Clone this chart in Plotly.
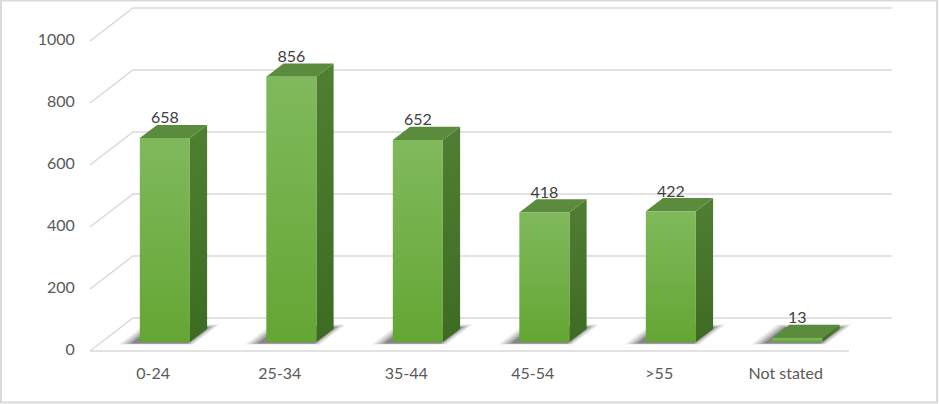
import plotly.graph_objects as go

categories = ["0-24", "25-34", "35-44", "45-54", ">55", "Not stated"]
values = [658, 856, 652, 418, 422, 13]
tick_values = [0, 200, 400, 600, 800, 1000]
tick_labels = ["0", "200", "400", "600", "800", "1000"]

# 3D projection parameters (data units)
DX = 0.34      # horizontal shift for full depth (category units)
DY = 106.5     # vertical shift for full depth (value units)
D0, D1 = 0.27, 0.67   # bar front / back depth fractions
HW = 0.198     # half bar width
W, H = 939, 404
PXX = 126.5    # pixels per category
PXY = 0.31     # pixels per value unit
X0PX, Y0PX = 90, 351

x_range = [-X0PX / PXX, (W - X0PX) / PXX]
y_range = [-(H - Y0PX) / PXY, Y0PX / PXY]

GRID = "#d9d9d9"
TXT = "#595959"
n = len(categories)

fig = go.Figure()

def poly(xs, ys, **kw):
    fig.add_trace(go.Scatter(x=xs + [xs[0]], y=ys + [ys[0]], mode="lines", fill="toself",
                             hoverinfo="skip", showlegend=False, **kw))

# back wall gridlines and left diagonals
for v in tick_values:
    fig.add_trace(go.Scatter(x=[0, DX, n + DX], y=[v, v + DY, v + DY], mode="lines",
                             line=dict(color=GRID, width=1.5), hoverinfo="skip", showlegend=False))
# front floor edge
fig.add_trace(go.Scatter(x=[0, n], y=[0, 0], mode="lines",
                         line=dict(color=GRID, width=1.5), hoverinfo="skip", showlegend=False))

# shadows
for i, v in enumerate(values):
    c = i + 0.5
    for k, op in [(1.0, 0.10), (0.75, 0.14), (0.5, 0.2), (0.25, 0.28)]:
        da, db = 0.24 - 0.04 * k, 0.70 + 0.10 * k
        xl, xr = c - HW - 0.03 - 0.11 * k, c + HW - 0.02 + 0.07 * k
        poly([xl + da * DX, xr + da * DX, xr + db * DX, xl + db * DX],
             [da * DY, da * DY, db * DY, db * DY],
             line=dict(width=0), fillcolor=f"rgba(35,35,35,{op})")

# bars
for i, v in enumerate(values):
    c = i + 0.5
    xl = c - HW + D0 * DX
    xr = c + HW + D0 * DX
    yb = D0 * DY
    yt = v + D0 * DY
    ddx, ddy = (D1 - D0) * DX, (D1 - D0) * DY
    # side face
    poly([xr, xr + ddx, xr + ddx, xr], [yb, yb + ddy, yt + ddy, yt],
         line=dict(width=0), fillcolor="#466f2b",
         fillgradient=dict(type="vertical", colorscale=[[0, "#3d6b22"], [1, "#507f33"]]))
    # top face
    poly([xl, xr, xr + ddx, xl + ddx], [yt, yt, yt + ddy, yt + ddy],
         line=dict(width=0), fillcolor="#5b8b3c")
    # front face
    poly([xl, xr, xr, xl], [yb, yb, yt, yt],
         line=dict(width=0), fillcolor="#70b046",
         fillgradient=dict(type="vertical", colorscale=[[0, "#64a634"], [1, "#80b95c"]]))

# data labels
fig.add_trace(go.Scatter(
    x=[i + 0.5 + D0 * DX for i in range(n)],
    y=[v + D1 * DY - 8 for v in values],
    mode="text", text=[str(v) for v in values], textposition="top center",
    textfont=dict(family="Lato", size=16, color="#404040"),
    hoverinfo="skip", showlegend=False))

# y tick labels
fig.add_trace(go.Scatter(
    x=[-0.12] * len(tick_values), y=tick_values, mode="text", text=tick_labels,
    textposition="middle left", textfont=dict(family="Lato", size=16, color=TXT),
    hoverinfo="skip", showlegend=False))

# category labels
fig.add_trace(go.Scatter(
    x=[i + 0.5 for i in range(n)], y=[-77] * n, mode="text", text=categories,
    textposition="middle center", textfont=dict(family="Lato", size=16, color=TXT),
    hoverinfo="skip", showlegend=False))

fig.update_layout(
    width=W, height=H, margin=dict(l=0, r=0, t=0, b=0),
    paper_bgcolor="white", plot_bgcolor="white",
    xaxis=dict(range=x_range, visible=False, fixedrange=True),
    yaxis=dict(range=y_range, visible=False, fixedrange=True),
    shapes=[dict(type="rect", xref="paper", yref="paper", x0=0.001, x1=0.998, y0=0.004, y1=0.999,
                 line=dict(color="#d9d9d9", width=2), fillcolor="rgba(0,0,0,0)", layer="above")],
)

fig.write_html("out.html", post_script="document.body.style.margin='0';",
               config={"displayModeBar": False})
